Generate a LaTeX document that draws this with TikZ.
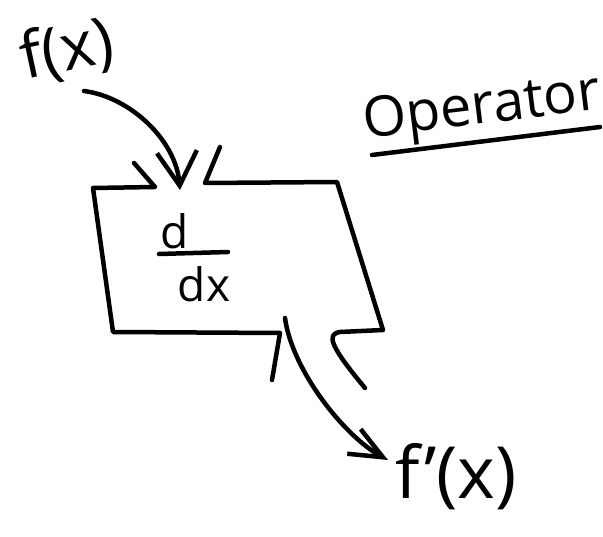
\documentclass[tikz,border=0pt]{standalone}
\usepackage{fontspec}
\setmainfont{Open Sans}
\usetikzlibrary{arrows.meta,positioning}

\begin{document}
\begin{tikzpicture}[x=1pt,y=-1pt,
        pen/.style={line width=4.5pt, line cap=round, line join=round},
        hand/.style={inner sep=1pt, font=\fontsize{#1}{#1}\selectfont},
        barb/.style 2 args={-{Straight Barb[length=#1, width=#2]}}]
        \useasboundingbox (0,0) rectangle (603,537);

        % Operator box with its two funnel openings
        \draw[pen] (134,163) -- (155,187) -- (93,188) -- (113,332) -- (280,333) -- (272,380);
        \draw[pen] (220,147) -- (205,183) -- (337,182) -- (383,330) -- (340,332)
            .. controls (326,334) and (330,346) .. (365,388);

        % d/dx inside the box
        \node[hand=46] (num) at (175,231) {d};
        \node[hand=46] (den) at (204,284) {dx};
        \draw[pen] (159,254) -- (228,252);

        % Input f(x)
        \node[hand=64, rotate=12] (fx) at (67,51) {f(x)};
        \coordinate (inStart) at (84,91);
        \coordinate (inTip) at (180,190);
        \draw[pen, barb={34pt}{40pt}] (inStart) .. controls (130,97) and (176,140) .. (inTip);

        % Output f'(x)
        \node[hand=72] (fp) at (456,477) {f'(x)};
        \coordinate (outStart) at (285,318);
        \coordinate (outTip) at (388,460);
        \draw[pen, barb={33pt}{28pt}] (outStart) .. controls (292,370) and (344,436) .. (outTip);

        % Label
        \node[hand=56, rotate=7] (op) at (482,110) {Operator};
        \draw[pen] (372,155) -- (600,127);

    \end{tikzpicture}
\end{document}
